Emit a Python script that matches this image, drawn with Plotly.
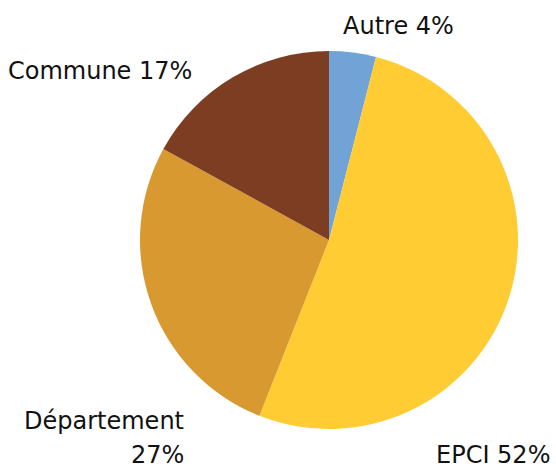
import plotly.graph_objects as go

labels = ["Autre", "EPCI", "Département", "Commune"]
values = [4, 52, 27, 17]
colors = ["#71A3D6", "#FFCC33", "#D89A30", "#7D3D22"]

W, H = 556, 472

fig = go.Figure(go.Pie(
    labels=labels, values=values, sort=False, direction="clockwise", rotation=0,
    marker=dict(colors=colors, line=dict(width=0)),
    textinfo="none", hoverinfo="label+percent",
    domain=dict(x=[140 / W, 518 / W], y=[1 - 429 / H, 1 - 51 / H]),
    showlegend=False,
))

def ann(px, py, text, xanchor):
    return dict(x=px / W, y=1 - py / H, xref="paper", yref="paper", text=text,
                showarrow=False, xanchor=xanchor, yanchor="middle",
                font=dict(size=24, color="#111111"))

annotations = [
    ann(398, 26, f"{labels[0]} {values[0]}%", "center"),
    ann(552, 455, f"{labels[1]} {values[1]}%", "right"),
    ann(186, 421, f"{labels[2]}", "right"),
    ann(186, 455, f"{values[2]}%", "right"),
    ann(6, 71, f"{labels[3]} {values[3]}%", "left"),
]

fig.update_layout(
    width=W, height=H, margin=dict(l=0, r=0, t=0, b=0),
    paper_bgcolor="white", plot_bgcolor="white",
    font=dict(family="'DejaVu Sans', sans-serif", size=24, color="#111111"),
    annotations=annotations,
)

fig.write_html("out.html", config={"displayModeBar": False},
               post_script="document.body.style.margin='0';")
